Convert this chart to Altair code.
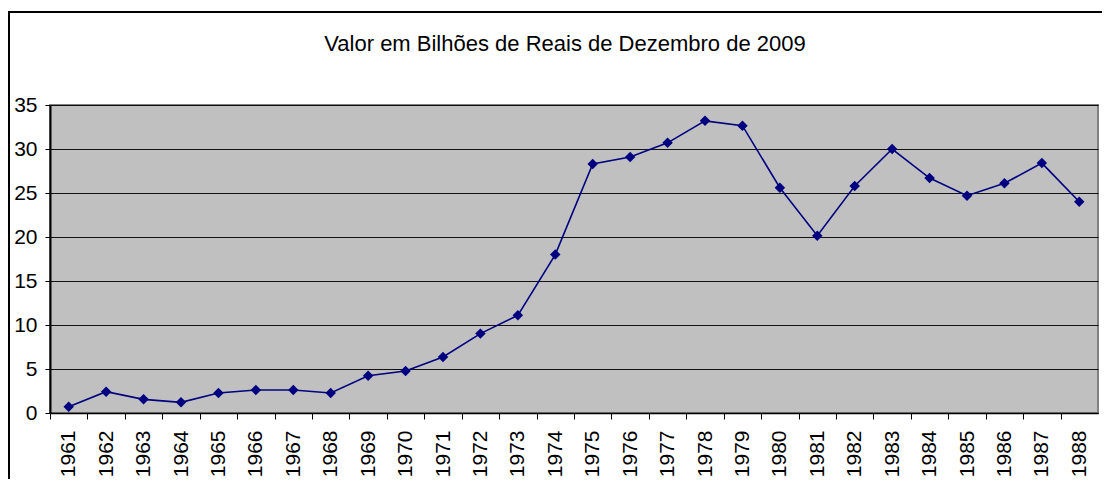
import altair as alt
import pandas as pd

years = [str(y) for y in range(1961, 1989)]
values = [0.72, 2.42, 1.55, 1.21, 2.27, 2.61, 2.61, 2.27, 4.24, 4.77,
          6.36, 9.02, 11.1, 18.0, 28.3, 29.1, 30.7, 33.2, 32.65, 25.6,
          20.15, 25.8, 30.0, 26.7, 24.7, 26.1, 28.4, 24.0]
title_text = "Valor em Bilhões de Reais de Dezembro de 2009"
y_ticks = [0, 5, 10, 15, 20, 25, 30, 35]

df = pd.DataFrame({"ano": years, "valor": values})

W, H = 1048, 308
half = W / len(years) / 2
FONT = "Liberation Sans"
NAVY = "#000080"

x_enc = alt.X("ano:O", sort=years, title=None,
              scale=alt.Scale(type="point", padding=0.5),
              axis=alt.Axis(labelAngle=-90, labelAlign="right", labelBaseline="middle",
                            labelFontSize=21, labelFont=FONT, labelColor="black",
                            tickOffset=-half, labelOffset=half,
                            tickSize=6, tickColor="black", labelPadding=11,
                            domainColor="black", domainWidth=1.5, grid=False))
y_enc = alt.Y("valor:Q", title=None,
              scale=alt.Scale(domain=[0, 35], nice=False, zero=True),
              axis=alt.Axis(values=y_ticks, labelFontSize=21, labelFont=FONT,
                            labelColor="black", tickSize=5, tickColor="black",
                            labelPadding=8, domainColor="black", domainWidth=2,
                            grid=True, gridColor="#000000", gridWidth=1,
                            gridOpacity=0.9))

base = alt.Chart(df)
line = base.mark_line(color=NAVY, strokeWidth=1.6).encode(x=x_enc, y=y_enc)
pts = base.mark_point(shape="diamond", filled=True, size=110, color=NAVY, opacity=1).encode(x=x_enc, y=y_enc)

frame = alt.Chart(alt.Data(values=[{"f": 1}])).mark_rect(
    fill="transparent", stroke="black", strokeWidth=2
).encode(x=alt.value(-41), x2=alt.value(1200), y=alt.value(-93), y2=alt.value(600))

chart = alt.layer(frame, line, pts).properties(
    width=W, height=H,
    title=alt.TitleParams(title_text, font=FONT, fontSize=22, fontWeight="normal",
                          color="black", anchor="middle", baseline="alphabetic",
                          offset=-62, dx=-9),
    padding={"left": 42, "top": 97, "right": 4, "bottom": 66},
    autosize=alt.AutoSizeParams(type="none"),
).configure_view(fill="#C0C0C0", stroke="#808080", strokeWidth=2)

chart.save("out.html", embed_options={"renderer": "svg", "actions": False})
